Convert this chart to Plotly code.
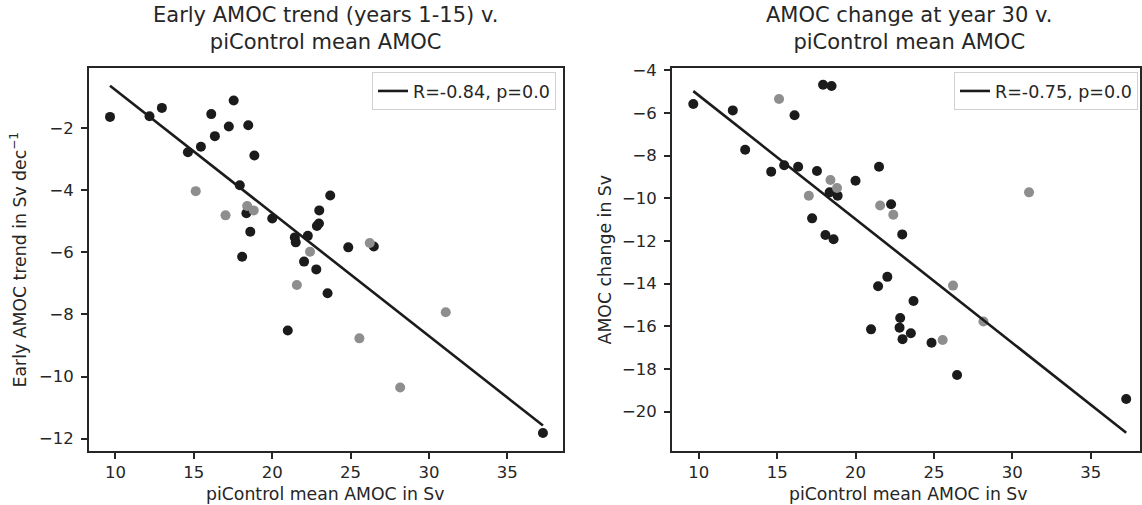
import numpy as np
import plotly.graph_objects as go

# ---- data ----
# models drawn in black
pic_black = [9.65, 12.17, 12.96, 14.62, 15.45, 16.11, 16.34, 17.23, 17.54, 17.93,
             18.08, 18.35, 18.47, 18.60, 18.86, 20.00, 20.99, 21.44, 21.50, 22.03,
             22.27, 22.81, 22.85, 22.98, 23.00, 23.53, 23.70, 24.85, 26.48, 37.27]
trend_black = [-1.64, -1.62, -1.35, -2.78, -2.60, -1.55, -2.26, -1.95, -1.11, -3.84,
               -6.14, -4.74, -1.91, -5.34, -2.88, -4.91, -8.52, -5.52, -5.68, -6.30,
               -5.47, -6.55, -5.15, -5.07, -4.65, -7.32, -4.17, -5.84, -5.81, -11.82]
change_black = [-5.58, -5.88, -7.72, -8.75, -8.45, -6.11, -8.52, -10.94, -8.72, -4.68,
                -11.72, -9.72, -4.74, -11.92, -9.88, -9.18, -16.14, -14.12, -8.52, -13.68,
                -10.28, -16.06, -15.61, -11.69, -16.60, -16.32, -14.81, -16.77, -18.28, -19.40]
# models drawn in grey
pic_grey = [15.12, 17.02, 18.40, 18.82, 22.41, 26.22, 21.57, 25.56, 31.07, 28.16]
trend_grey = [-4.03, -4.81, -4.51, -4.65, -5.98, -5.70, -7.05, -8.77, -7.93, -10.35]
change_grey = [-5.35, -9.88, -9.14, -9.52, -10.77, -14.09, -10.34, -16.64, -9.72, -15.77]

legend_left = "R=-0.84, p=0.0"
legend_right = "R=-0.75, p=0.0"
title_left = "Early AMOC trend (years 1-15) v.<br>piControl mean AMOC"
title_right = "AMOC change at year 30 v.<br>piControl mean AMOC"
xlabel = "piControl mean AMOC in Sv"
ylabel_left = "Early AMOC trend in Sv dec<sup>\u22121</sup>"
ylabel_right = "AMOC change in Sv"

# ---- styling ----
W, H = 1142, 505
FONT = "DejaVu Sans"
TXT = "#262626"
BLACK = "#1b1b1b"
GREY = "#8e8e8e"

def px_x(p):
    return p / W

def px_y(p):
    return 1 - p / H

fig = go.Figure()

def add_panel(yb, yg, leg_label, xa, ya, legend_name):
    fig.add_trace(go.Scatter(x=pic_black, y=yb, mode="markers", xaxis=xa, yaxis=ya,
                             marker=dict(color=BLACK, size=10, line=dict(width=0)),
                             showlegend=False))
    fig.add_trace(go.Scatter(x=pic_grey, y=yg, mode="markers", xaxis=xa, yaxis=ya,
                             marker=dict(color=GREY, size=10, line=dict(width=0)),
                             showlegend=False))
    xs = np.array(pic_black + pic_grey)
    ys = np.array(list(yb) + list(yg))
    slope, icpt = np.polyfit(xs, ys, 1)
    xl = np.array([xs.min(), xs.max()])
    fig.add_trace(go.Scatter(x=xl, y=slope * xl + icpt, mode="lines", xaxis=xa, yaxis=ya,
                             line=dict(color=BLACK, width=2.6), name=leg_label,
                             showlegend=True, legend=legend_name))

add_panel(trend_black, trend_grey, legend_left, "x", "y", "legend")
add_panel(change_black, change_grey, legend_right, "x2", "y2", "legend2")

ydom = [px_y(450), px_y(62)]
axis_common = dict(showline=True, linecolor=TXT, linewidth=1.6, mirror=True,
                   ticks="outside", ticklen=6, tickwidth=1.5, tickcolor=TXT,
                   showgrid=False, zeroline=False,
                   tickfont=dict(family=FONT, size=16.5, color=TXT))

leg_common = dict(xanchor="right", yanchor="top", bgcolor="white",
                  bordercolor="#d0d0d0", borderwidth=1,
                  font=dict(family=FONT, size=17.5, color=TXT))

fig.update_layout(
    width=W, height=H,
    margin=dict(l=0, r=0, t=0, b=0),
    plot_bgcolor="white", paper_bgcolor="white",
    font=dict(family=FONT, color=TXT),
    xaxis=dict(domain=[px_x(89), px_x(564)], range=[8.30, 38.55], dtick=5, tick0=0,
               anchor="y", **axis_common),
    yaxis=dict(domain=ydom, range=[-12.39, -0.07], dtick=2, tick0=0, anchor="x",
               ticklabelstandoff=4, **axis_common),
    xaxis2=dict(domain=[px_x(673), 1.0], range=[8.28, 38.15], dtick=5, tick0=0,
                anchor="y2", **axis_common),
    yaxis2=dict(domain=ydom, range=[-21.83, -3.90], dtick=2, tick0=0, anchor="x2",
                ticklabelstandoff=4, **axis_common),
    legend=dict(x=px_x(557), y=px_y(66), **leg_common),
    legend2=dict(x=px_x(1140), y=px_y(66), **leg_common),
)

def note(text, x, y, size, angle=0):
    fig.add_annotation(text=text, x=px_x(x), y=px_y(y), xref="paper", yref="paper",
                       showarrow=False, xanchor="center", yanchor="middle",
                       textangle=angle, font=dict(family=FONT, size=size, color=TXT))

note(title_left, 326.5, 22, 21)
note(title_right, 910.5, 22, 21)
note(xlabel, 326.5, 494, 17.3)
note(xlabel, 910.5, 494, 17.3)
note(ylabel_left, 19, 256, 17.3, -90)
note(ylabel_right, 607, 256, 17.3, -90)

fig.write_html("out.html")
